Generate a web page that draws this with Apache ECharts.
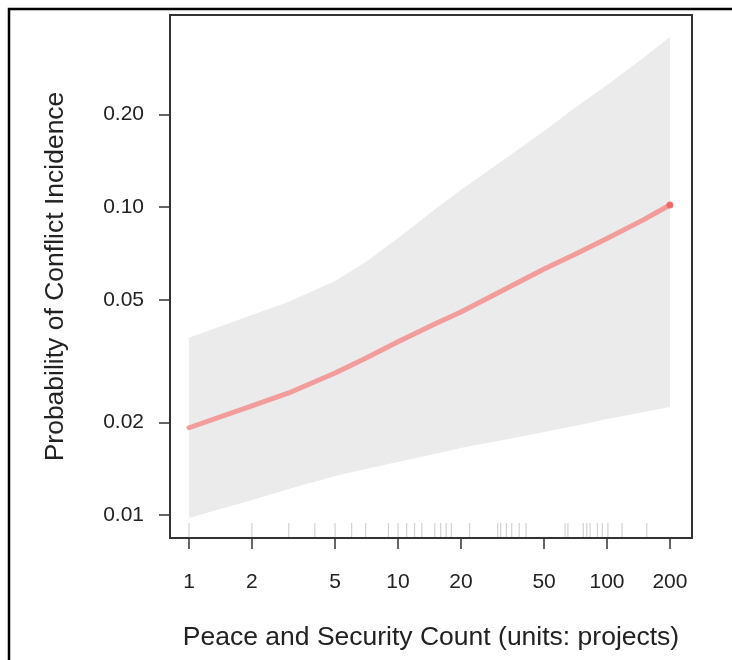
<!DOCTYPE html>
<html>
<head>
<meta charset="utf-8">
<script src="https://cdn.jsdelivr.net/npm/echarts@6/dist/echarts.min.js"></script>
<style>
  html, body { margin: 0; padding: 0; background: #fff; }
  #chart { width: 732px; height: 660px; }
</style>
</head>
<body>
<div id="chart"></div>
<script>
// tick labels
const xTicks = [1, 2, 5, 10, 20, 50, 100, 200];
const yTicks = [0.01, 0.02, 0.05, 0.10, 0.20];
// predicted curve + band
const countX = [1, 2, 3, 5, 7, 10, 15, 20, 30, 50, 70, 100, 150, 200];
const fitY = [0.0192, 0.0226, 0.0249, 0.0289, 0.0323, 0.0365, 0.0417, 0.0456, 0.0526, 0.0629, 0.0701, 0.0790, 0.0910, 0.1015];
const upperY = [0.0376, 0.0446, 0.0492, 0.0575, 0.0663, 0.0792, 0.0982, 0.1135, 0.1379, 0.1765, 0.2096, 0.2489, 0.3060, 0.3564];
const lowerY = [0.00978, 0.01119, 0.01214, 0.01339, 0.01411, 0.01486, 0.01578, 0.0165, 0.01739, 0.0186, 0.01945, 0.0205, 0.0216, 0.02242];
// rug of observed counts
const rugX = [1, 2, 3, 4, 5, 6, 7, 9, 10, 11, 12, 13, 15, 16, 17, 18, 22, 30, 31, 33, 35, 38, 41,
  63, 65, 77, 80, 83, 90, 95, 101, 118, 155];

const log = Math.log10;
// axis extents (log10 space)
const xMin = -0.0909, xMax = 2.4067;
const yMin = -2.0747, yMax = -0.3766;

const font = "'Liberation Sans', Arial, sans-serif";
const textColor = '#222';

let fitData = countX.map((x, i) => [log(x), log(fitY[i])]);
let bandData = countX.map((x, i) => [log(x), log(lowerY[i]), log(upperY[i])]);
let rugData = rugX.map(x => [log(x), yMin]);

let chart = echarts.init(document.getElementById('chart'));
let option = {
  animation: false,
  textStyle: { fontFamily: font },
  grid: {
    left: 170, right: 40, top: 15, bottom: 122,
    show: true,
    borderColor: '#333',
    borderWidth: 2
  },
  xAxis: {
    type: 'value',
    min: xMin, max: xMax,
    name: 'Peace and Security Count (units: projects)',
    nameLocation: 'middle',
    nameGap: 86,
    nameTextStyle: { fontSize: 26.5, color: textColor, fontFamily: font },
    axisLine: { show: false, onZero: false },
    splitLine: { show: false },
    axisTick: {
      show: true, length: 11,
      customValues: xTicks.map(log),
      lineStyle: { color: '#333', width: 1.5 }
    },
    axisLabel: {
      customValues: xTicks.map(log),
      formatter: v => String(Math.round(Math.pow(10, v))),
      fontSize: 21, color: textColor, margin: 34, fontFamily: font
    }
  },
  yAxis: {
    type: 'value',
    min: yMin, max: yMax,
    name: 'Probability of Conflict Incidence',
    nameLocation: 'middle',
    nameGap: 101,
    nameTextStyle: { fontSize: 26.5, color: textColor, fontFamily: font },
    axisLine: { show: false, onZero: false },
    splitLine: { show: false },
    axisTick: {
      show: true, length: 11,
      customValues: yTicks.map(log),
      lineStyle: { color: '#333', width: 1.5 }
    },
    axisLabel: {
      customValues: yTicks.map(log),
      formatter: v => Math.pow(10, v).toFixed(2),
      fontSize: 21, color: textColor, margin: 26, fontFamily: font
    }
  },
  series: [
    {
      // confidence band as one polygon: lower edge then upper edge reversed
      type: 'custom',
      data: bandData,
      renderItem: (params, api) => {
        if (params.dataIndex !== 0) return;
        let lo = bandData.map(d => api.coord([d[0], d[1]]));
        let hi = bandData.map(d => api.coord([d[0], d[2]])).reverse();
        return {
          type: 'polygon',
          shape: { points: lo.concat(hi) },
          style: { fill: '#ebebeb' }
        };
      },
      silent: true,
      z: 1
    },
    {
      type: 'custom',
      data: rugData,
      renderItem: (params, api) => {
        let p = api.coord([api.value(0), api.value(1)]);
        return {
          type: 'line',
          shape: { x1: p[0], y1: p[1] - 1, x2: p[0], y2: p[1] - 15 },
          style: { stroke: '#d2d2d2', lineWidth: 1.2 }
        };
      },
      silent: true,
      z: 2
    },
    {
      type: 'line', data: fitData,
      symbol: 'none',
      lineStyle: { color: '#f29c9c', width: 5, cap: 'round', join: 'round' },
      z: 5
    },
    {
      type: 'scatter', data: [fitData[fitData.length - 1]],
      symbolSize: 7,
      itemStyle: { color: '#ef5a5a' },
      z: 6
    }
  ],
  graphic: [
    {
      type: 'polyline',
      shape: { points: [[9, 660], [9, 9], [732, 9]] },
      style: { stroke: '#000', lineWidth: 2.5, fill: null }
    }
  ]
};
chart.setOption(option);
</script>
</body>
</html>
